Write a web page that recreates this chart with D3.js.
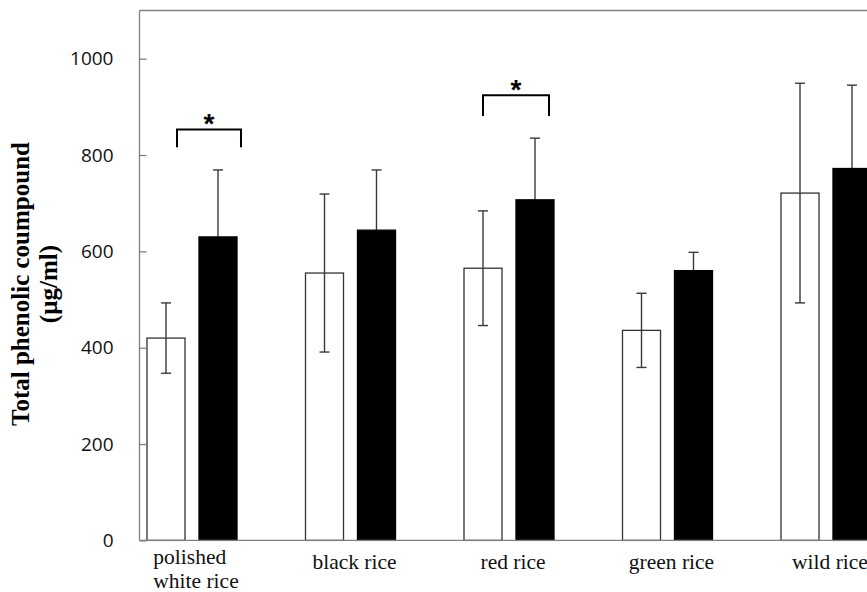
<!DOCTYPE html>
<html>
<head>
<meta charset="utf-8">
<script src="https://cdn.jsdelivr.net/npm/d3@7"></script>
<style>
	html, body { margin: 0; padding: 0; background: #fff; }
	svg { display: block; }
</style>
</head>
<body>
<div id="chart"></div>
<script>
// categories and series
var categories = ["polished white rice", "black rice", "red rice", "green rice", "wild rice"];
var categoryLines = [["polished", "white rice"], ["black rice"], ["red rice"], ["green rice"], ["wild rice"]];
var series = ["white", "black"];
var whiteMeans = [420, 555, 565, 436, 721];
var whiteErrors = [73, 164, 119, 77, 228];
var blackMeans = [630, 644, 707, 560, 772];
var blackErrors = [139, 125, 128, 38, 173];
var yTicks = [0, 200, 400, 600, 800, 1000];
// significance marks: category, bracket level, bracket foot level
var sigCategories = ["polished white rice", "red rice"];
var sigLevels = [853, 924];
var sigFeet = [816, 881];

(function() {
	var width = 867,
		height = 592,
		left = 139.5,
		top = 10.5,
		bottom = 540.4,
		step = 158.5;

	var svg = d3.select("#chart").append("svg")
		.attr("width", width)
		.attr("height", height);

	var y = d3.scaleLinear()
		.domain([0, 1100])
		.range([bottom, top]);

	var x = d3.scaleBand()
		.domain(categories)
		.range([left, left + step * categories.length]);

	var xs = d3.scaleBand()
		.domain(series)
		.range([7.5, 97.5])
		.paddingInner(0.269);

	var rows = categories.map(function(c, i) {
		return [
			{ cat: c, s: "white", v: whiteMeans[i], e: whiteErrors[i] },
			{ cat: c, s: "black", v: blackMeans[i], e: blackErrors[i] }
		];
	});
	var flat = [].concat.apply([], rows);

	function barX(d) { return x(d.cat) + xs(d.s); }
	function midX(d) { return barX(d) + xs.bandwidth() / 2; }

	// frame top line
	svg.append("line")
		.attr("x1", left).attr("x2", width)
		.attr("y1", top).attr("y2", top)
		.attr("stroke", "#7f7f7f")
		.attr("stroke-width", 1.3);

	function drawBars(kind) {
		svg.append("g")
			.selectAll("rect")
			.data(flat.filter(function(d) { return d.s === kind; }))
			.enter()
			.append("rect")
			.attr("x", barX)
			.attr("y", function(d) { return y(d.v); })
			.attr("width", xs.bandwidth())
			.attr("height", function(d) { return y(0) - y(d.v); })
			.attr("fill", kind === "black" ? "#000" : "#fff")
			.attr("stroke", kind === "black" ? "#000" : "#333")
			.attr("stroke-width", 1.3);
	}

	drawBars("white");

	// error bars (black bars are drawn over them afterwards)
	var err = svg.append("g")
		.selectAll("g")
		.data(flat)
		.enter()
		.append("g")
		.attr("stroke", "#3a3a3a")
		.attr("stroke-width", 1.4);

	err.append("line")
		.attr("x1", midX)
		.attr("x2", midX)
		.attr("y1", function(d) { return y(d.v + d.e); })
		.attr("y2", function(d) { return y(d.v - d.e); });

	[1, -1].forEach(function(sign) {
		err.append("line")
			.attr("x1", function(d) { return midX(d) - 5; })
			.attr("x2", function(d) { return midX(d) + 5; })
			.attr("y1", function(d) { return y(d.v + sign * d.e); })
			.attr("y2", function(d) { return y(d.v + sign * d.e); });
	});

	drawBars("black");

	// significance brackets
	function bracketEnds(c, i) {
		return [
			x(c) + xs("white") + xs.bandwidth() / 2 + (i === 0 ? 11 : 0),
			x(c) + xs("black") + xs.bandwidth() / 2 + (i === 0 ? 23 : 14)
		];
	}

	var sig = svg.append("g")
		.selectAll("g")
		.data(sigCategories)
		.enter()
		.append("g");

	sig.append("path")
		.attr("d", function(c, i) {
			var e = bracketEnds(c, i);
			return "M" + e[0] + "," + y(sigFeet[i]) + "V" + y(sigLevels[i]) +
				"H" + e[1] + "V" + y(sigFeet[i]);
		})
		.attr("fill", "none")
		.attr("stroke", "#000")
		.attr("stroke-width", 2);

	sig.append("text")
		.attr("x", function(c, i) { var e = bracketEnds(c, i); return (e[0] + e[1]) / 2; })
		.attr("y", function(c, i) { return y(sigLevels[i]) + 4; })
		.attr("text-anchor", "middle")
		.attr("font-family", "'Liberation Sans', Arial, sans-serif")
		.attr("font-weight", "bold")
		.attr("font-size", 28)
		.text("*");

	// y axis
	var yAxis = svg.append("g")
		.attr("transform", "translate(" + left + ",0)")
		.call(d3.axisLeft(y)
			.tickValues(yTicks)
			.tickFormat(d3.format("d"))
			.tickSizeInner(-7)
			.tickSizeOuter(0)
			.tickPadding(26));
	yAxis.select(".domain").remove();
	yAxis.selectAll(".tick line").attr("stroke", "#7f7f7f").attr("stroke-width", 1.3);
	yAxis.selectAll(".tick text")
		.attr("font-family", "'Open Sans', 'Noto Sans', sans-serif")
		.attr("font-size", 19)
		.attr("fill", "#111");

	svg.append("line")
		.attr("x1", left).attr("x2", left)
		.attr("y1", top).attr("y2", bottom)
		.attr("stroke", "#7f7f7f")
		.attr("stroke-width", 1.3);

	// x axis
	svg.append("line")
		.attr("x1", left).attr("x2", width)
		.attr("y1", bottom).attr("y2", bottom)
		.attr("stroke", "#7f7f7f")
		.attr("stroke-width", 1.3);

	var labels = svg.append("g")
		.selectAll("text")
		.data(categories)
		.enter()
		.append("text")
		.attr("font-family", "'Liberation Serif', 'Times New Roman', serif")
		.attr("font-size", 21.5)
		.attr("fill", "#111");

	labels.each(function(c, i) {
		var t = d3.select(this),
			lines = categoryLines[i],
			cx = x(c) + 52.5 + 4;
		lines.forEach(function(line, k) {
			t.append("tspan")
				.attr("x", cx)
				.attr("y", lines.length > 1 ? 564 + k * 24 : 569)
				.text(line);
		});
		var widest = 0;
		t.selectAll("tspan").each(function() { widest = Math.max(widest, this.getComputedTextLength()); });
		t.selectAll("tspan").attr("x", cx - widest / 2);
	});

	// y title
	var title = svg.append("text")
		.attr("transform", "translate(0,284) rotate(-90)")
		.attr("text-anchor", "middle")
		.attr("font-family", "'Liberation Serif', 'Times New Roman', serif")
		.attr("font-weight", "bold")
		.attr("font-size", 25)
		.attr("fill", "#000");
	title.append("tspan").attr("x", 0).attr("y", 29).text("Total phenolic coumpound");
	title.append("tspan").attr("x", 0).attr("y", 57).text("(µg/ml)");
}());
</script>
</body>
</html>
